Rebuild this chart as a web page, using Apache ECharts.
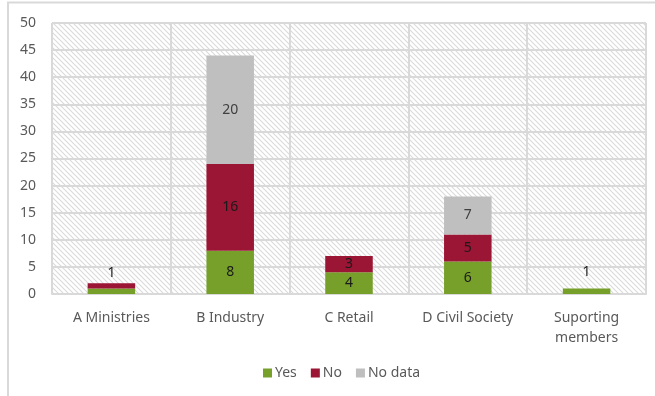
<!DOCTYPE html>
<html>
<head>
<meta charset="utf-8">
<script src="https://cdn.jsdelivr.net/npm/echarts@6/dist/echarts.min.js"></script>
<style>
  html, body { margin: 0; padding: 0; background: #fff; }
  #chart { width: 655px; height: 396px; }
</style>
</head>
<body>
<div id="chart"></div>
<script>
const categories = ['A Ministries', 'B Industry', 'C Retail', 'D Civil Society', 'Suporting\nmembers']
const yesValues = [1, 8, 4, 6, 1]
const noValues = [1, 16, 3, 5, null]
const noDataValues = [null, 20, null, 7, null]
const yTicks = [0, 5, 10, 15, 20, 25, 30, 35, 40, 45, 50]

// diagonal hatch for the plot area
function hatch() {
  let c = document.createElement('canvas')
  c.width = 5
  c.height = 5
  let ctx = c.getContext('2d')
  ctx.fillStyle = '#fff'
  ctx.fillRect(0, 0, 5, 5)
  ctx.strokeStyle = '#dadada'
  ctx.lineWidth = 1.1
  ctx.beginPath()
  ctx.moveTo(-1, -1); ctx.lineTo(6, 6)
  ctx.moveTo(-1, 4); ctx.lineTo(1, 6)
  ctx.moveTo(4, -1); ctx.lineTo(6, 1)
  ctx.stroke()
  return c
}

const font = 'Noto Sans'
const labelStyle = { show: true, position: 'inside', color: '#1a1a1a', fontSize: 14, fontFamily: font }

function series(name, values, color, labelColor) {
  return {
    name: name,
    type: 'bar',
    stack: 'total',
    barWidth: '40%',
    itemStyle: { color: color },
    label: Object.assign({}, labelStyle, { color: labelColor }),
    data: values
  }
}

let yes = series('Yes', yesValues, '#77a02b', '#1a1a1a')
yes.data = yesValues.map((v, i) => {
  if (i === 0) return { value: v, label: { show: false } }
  if (i === 4) return { value: v, label: { position: 'top', distance: 10 } }
  return v
})
let no = series('No', noValues, '#9b1535', '#1a1a1a')
no.data = noValues.map((v, i) => i === 0 ? { value: v, label: { position: 'top', distance: 3 } } : v)
let noData = series('No data', noDataValues, '#bfbfbf', '#404040')

let myChart = echarts.init(document.getElementById('chart'))
myChart.setOption({
  animation: false,
  textStyle: { fontFamily: font },
  graphic: [{
    type: 'rect',
    shape: { x: 8, y: 2.5, width: 700, height: 500 },
    style: { fill: 'none', stroke: '#d9d9d9', lineWidth: 2 },
    silent: true
  }],
  grid: {
    left: 52,
    right: 9,
    top: 23,
    bottom: 102,
    show: true,
    borderWidth: 0,
    backgroundColor: { image: hatch(), repeat: 'repeat' }
  },
  legend: {
    bottom: 11,
    left: 258,
    itemWidth: 9,
    itemHeight: 9,
    itemGap: 14,
    icon: 'rect',
    textStyle: { color: '#595959', fontSize: 14, fontFamily: font, padding: [0, 0, 0, -2] },
    data: ['Yes', 'No', 'No data']
  },
  xAxis: {
    type: 'category',
    data: categories,
    axisLine: { show: true, lineStyle: { color: '#d9d9d9', width: 2 } },
    axisTick: { show: false },
    splitLine: { show: true, lineStyle: { color: '#d9d9d9', width: 2 } },
    axisLabel: { color: '#595959', fontSize: 14, fontFamily: font, margin: 14, lineHeight: 20, interval: 0 }
  },
  yAxis: {
    type: 'value',
    min: yTicks[0],
    max: yTicks[yTicks.length - 1],
    interval: 5,
    axisLine: { show: false },
    axisTick: { show: false },
    splitLine: { lineStyle: { color: '#d9d9d9', width: 2 } },
    axisLabel: { color: '#595959', fontSize: 14, fontFamily: font, margin: 16 }
  },
  series: [yes, no, noData]
})
</script>
</body>
</html>
